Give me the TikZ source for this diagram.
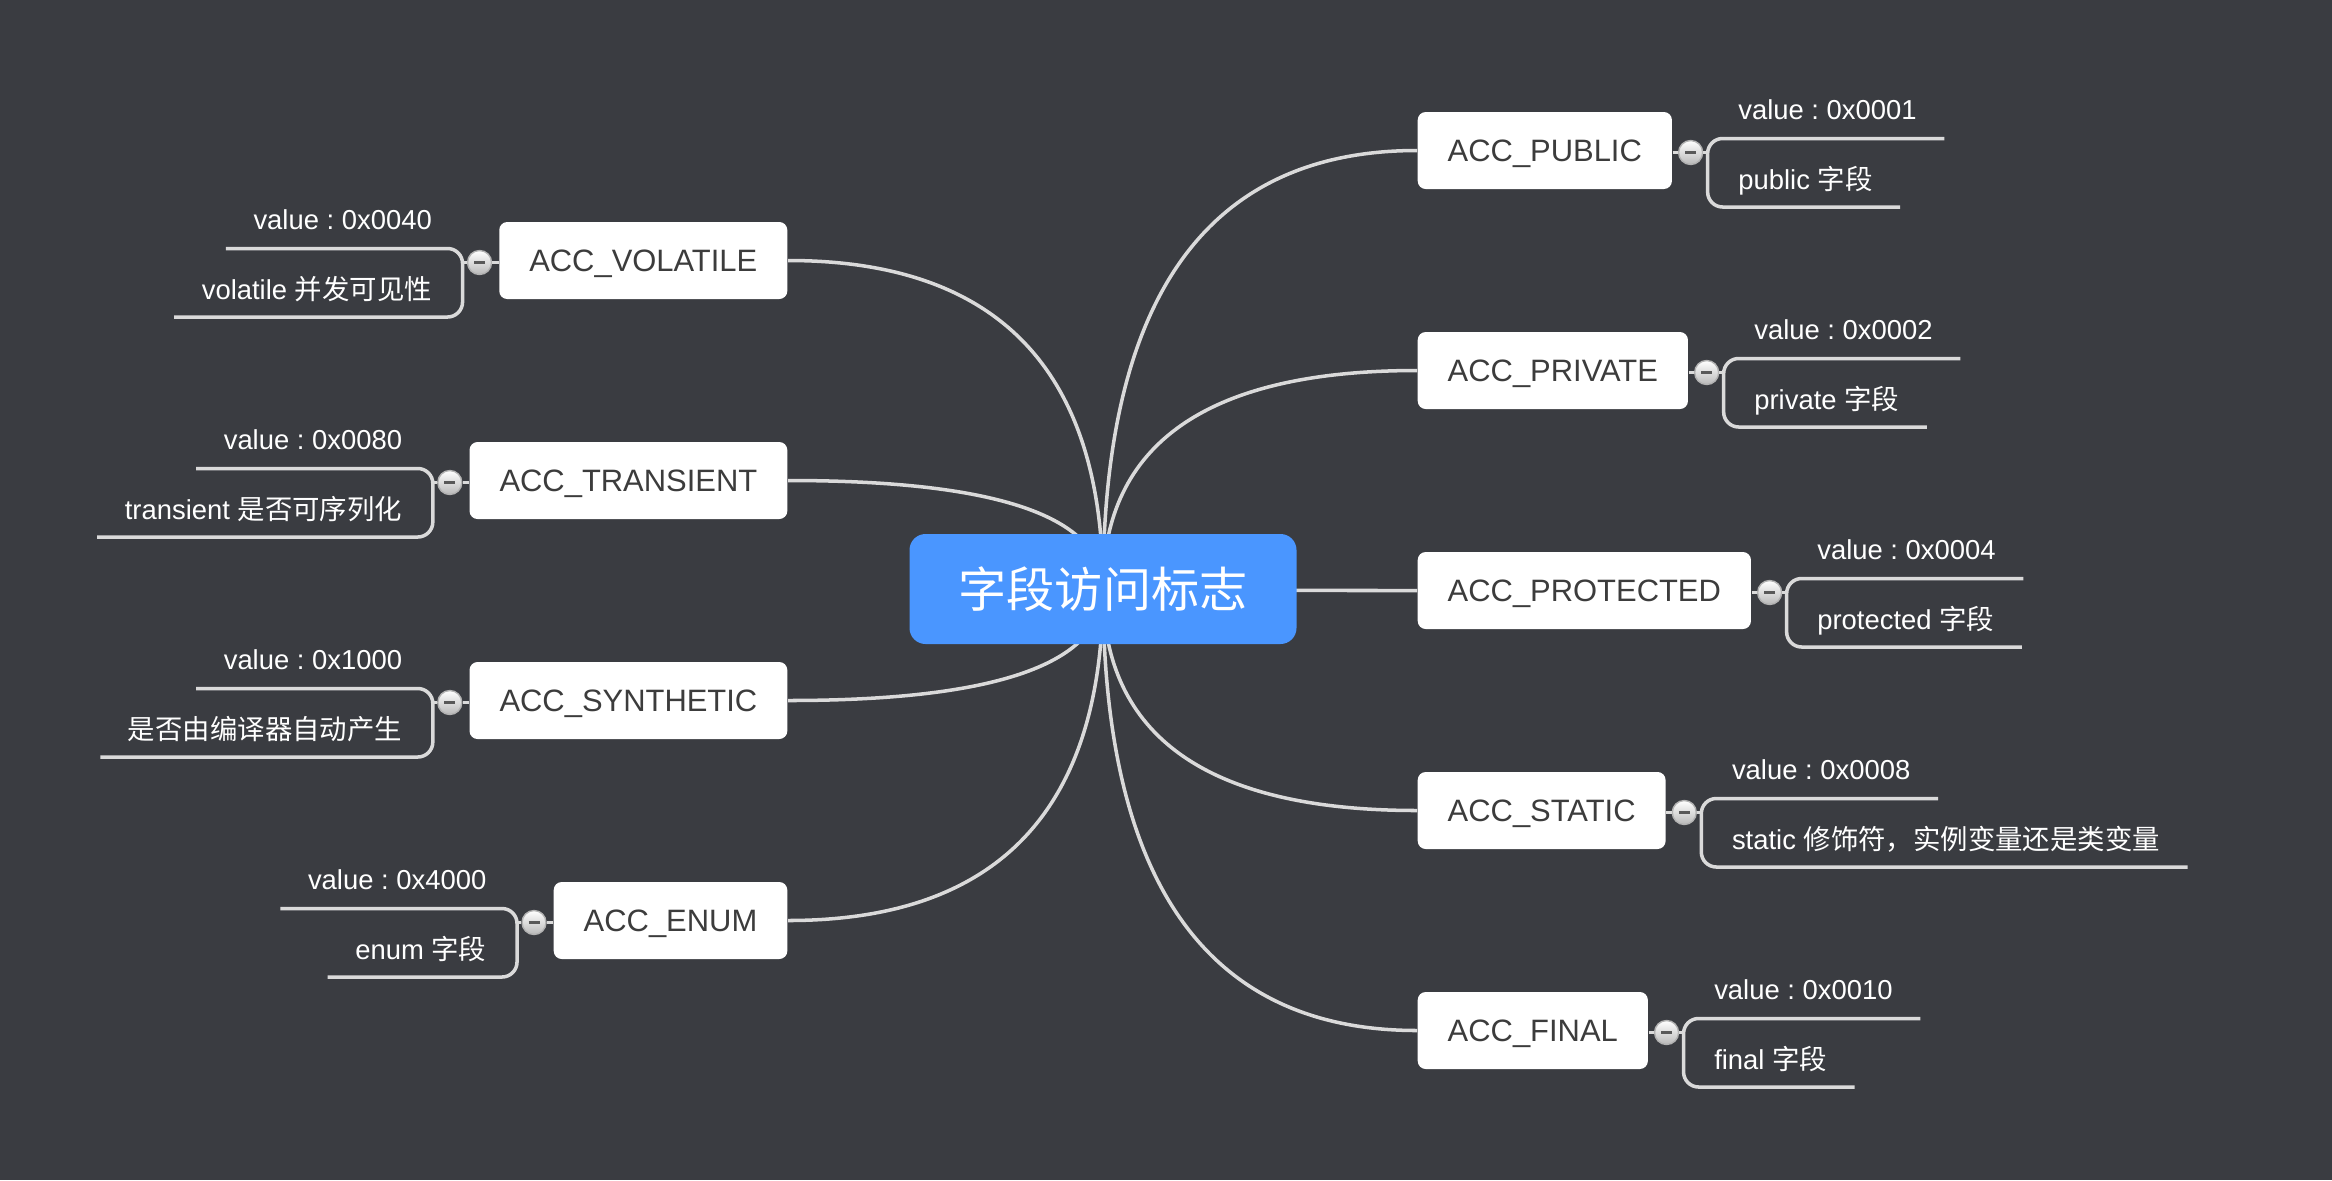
\documentclass[tikz,border=0pt]{standalone}
\usepackage{fontspec}
\setmainfont{Liberation Sans}
\newfontfamily\cjk{Noto Sans CJK SC}
\usetikzlibrary{calc,backgrounds,positioning}
\frenchspacing
\definecolor{bgdark}{RGB}{58,60,65}
\definecolor{rootblue}{RGB}{74,150,255}
\definecolor{linegrey}{RGB}{218,218,218}
\definecolor{boxtext}{RGB}{60,60,60}
\tikzset{
  root/.style={fill=rootblue, text=white, rounded corners=0.16cm,
    minimum width=3.87cm, minimum height=1.10cm,
    font=\fontsize{13.7pt}{16pt}\selectfont\cjk},
  field/.style={fill=white, text=boxtext, rounded corners=0.08cm,
    minimum height=0.77cm, inner xsep=0.30cm, text depth=0pt,
    font=\fontsize{8.8pt}{10pt}\selectfont},
  leaf/.style={text=white, inner xsep=0.27cm, inner ysep=0pt,
    font=\fontsize{7.8pt}{9pt}\selectfont},
  branch/.style={draw=linegrey, line width=1pt},
  collapse/.style={circle, draw=gray!60, top color=white, bottom color=gray!55,
    minimum size=0.24cm, inner sep=0pt, line width=0.4pt,
    path picture={\draw[line width=0.9pt, black!65]
      ([xshift=-0.055cm]path picture bounding box.center) --
      ([xshift=0.055cm]path picture bounding box.center);}}
}
\begin{document}
\begin{tikzpicture}[x=1cm, y=-1cm]
\useasboundingbox (0,0) rectangle (23.32,11.80);
\begin{scope}[on background layer]
\fill[bgdark] (0,0) rectangle (23.32,11.80);
\end{scope}

\node[root] (root) at (11.03,5.89) {字段访问标志};

% right branches
\foreach \n/\lab/\y/\val/\desc in {
  pub/PUBLIC/1.505/0x0001/{public {\cjk 字段}},
  pri/PRIVATE/3.705/0x0002/{private {\cjk 字段}},
  pro/PROTECTED/5.905/0x0004/{protected {\cjk 字段}},
  sta/STATIC/8.105/0x0008/{static {\cjk 修饰符，实例变量还是类变量}},
  fin/FINAL/10.305/0x0010/{final {\cjk 字段}}}
{
  \node[field, anchor=west] (\n) at (14.17,\y) {ACC\_\lab};
  \node[collapse] (c\n) at ($(\n.east)+(0.18,0.02)$) {};
  \coordinate (t\n) at ($(\n.east)+(0.35,-0.12)$);
  \coordinate (b\n) at ($(\n.east)+(0.35,0.565)$);
  \node[leaf, anchor=base west] (v\n) at ($(t\n)+(0.03,-0.195)$) {value : \val};
  \node[leaf, anchor=base west] (d\n) at ($(t\n)+(0.03,0.51)$) {\desc};
  \draw[branch, rounded corners=0.15cm] (v\n.east |- t\n) -- (t\n) -- (b\n) -- (d\n.east |- b\n);
  \draw[branch] (\n.east |- c\n) -- (c\n);
  \draw[branch] (c\n) -- (c\n -| t\n);
  \coordinate (k\n) at (root.center |- \n.west);
  \begin{scope}[on background layer]
  \draw[branch] (root.center) .. controls ($(root.center)!2/3!(k\n)$) and ($(\n.west)!2/3!(k\n)$) .. (\n.west);
  \end{scope}
}

% left branches
\foreach \n/\lab/\y/\val/\desc in {
  vol/VOLATILE/2.605/0x0040/{volatile {\cjk 并发可见性}},
  tra/TRANSIENT/4.805/0x0080/{transient {\cjk 是否可序列化}},
  syn/SYNTHETIC/7.005/0x1000/{{\cjk 是否由编译器自动产生}},
  enu/ENUM/9.205/0x4000/{enum {\cjk 字段}}}
{
  \node[field, anchor=east] (\n) at (7.88,\y) {ACC\_\lab};
  \node[collapse] (c\n) at ($(\n.west)+(-0.19,0.02)$) {};
  \coordinate (t\n) at ($(\n.west)+(-0.36,-0.12)$);
  \coordinate (b\n) at ($(\n.west)+(-0.36,0.565)$);
  \node[leaf, anchor=base east] (v\n) at ($(t\n)+(-0.03,-0.195)$) {value : \val};
  \node[leaf, anchor=base east] (d\n) at ($(t\n)+(-0.03,0.51)$) {\desc};
  \draw[branch, rounded corners=0.15cm] (v\n.west |- t\n) -- (t\n) -- (b\n) -- (d\n.west |- b\n);
  \draw[branch] (\n.west |- c\n) -- (c\n);
  \draw[branch] (c\n) -- (c\n -| t\n);
  \coordinate (k\n) at (root.center |- \n.east);
  \begin{scope}[on background layer]
  \draw[branch] (root.center) .. controls ($(root.center)!2/3!(k\n)$) and ($(\n.east)!2/3!(k\n)$) .. (\n.east);
  \end{scope}
}
\end{tikzpicture}
\end{document}
